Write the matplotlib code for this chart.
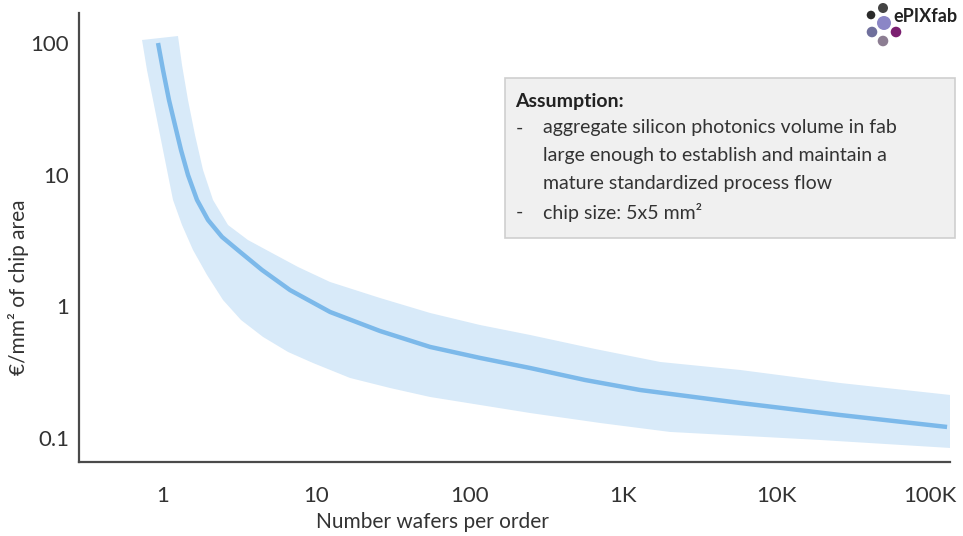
import matplotlib
matplotlib.use("Agg")
import matplotlib.pyplot as plt
from matplotlib.patches import Rectangle, Ellipse
from matplotlib.ticker import NullLocator, FixedLocator, FixedFormatter

plt.rcParams['font.family'] = ['Lato', 'DejaVu Sans']

# ---- data ----
center_x = [0.928, 1.0, 1.094, 1.197, 1.310, 1.455, 1.666, 1.965, 2.424, 3.18, 4.42, 6.73,
            12.27, 25.98, 55.1, 116.6, 247, 564, 1287, 5773, 25900, 129100]
center_y = [100, 62.4, 36.9, 23.8, 15.4, 9.95, 6.43, 4.53, 3.37, 2.59, 1.89, 1.33,
            0.907, 0.650, 0.492, 0.406, 0.3405, 0.276, 0.2318, 0.1847, 0.1497, 0.1214]

upper_x = [1.252, 1.330, 1.455, 1.617, 1.823, 2.118, 2.653, 3.58, 4.985, 7.59, 12.27,
           25.98, 55.1, 116.6, 247, 655, 1738, 5773, 25900, 135000]
upper_y = [113, 68.1, 36.9, 20.0, 10.86, 6.43, 4.15, 3.19, 2.59, 1.991, 1.532,
           1.158, 0.891, 0.722, 0.6066, 0.4748, 0.3784, 0.329, 0.262, 0.2125]

lower_x = [0.730, 0.786, 0.861, 1.0, 1.162, 1.330, 1.569, 1.936, 2.461, 3.225, 4.487,
           6.53, 9.50, 16.56, 30.2, 55.1, 247, 706, 2018, 19190, 135000]
lower_y = [105.4, 62.4, 36.9, 15.4, 6.43, 4.15, 2.68, 1.731, 1.118, 0.788, 0.586,
           0.4506, 0.3716, 0.286, 0.240, 0.2051, 0.155, 0.1302, 0.1113, 0.0967, 0.0841]

x_ticks = [1, 10, 100, 1000, 10000, 100000]
x_labels = ['1', '10', '100', '1K', '10K', '100K']
y_ticks = [0.1, 1, 10, 100]
y_labels = ['0.1', '1', '10', '100']

x_title = 'Number wafers per order'
y_title = '€/mm² of chip area'
note_title = 'Assumption:'
note_lines = ['aggregate silicon photonics volume in fab',
              'large enough to establish and maintain a',
              'mature standardized process flow',
              'chip size: 5x5 mm²']
note_dash_rows = [0, 3]

# ---- figure ----
W, H = 963, 536
fig = plt.figure(figsize=(W / 100, H / 100), dpi=100)
ax = fig.add_axes([79 / W, (H - 462) / H, (950 - 79) / W, (462 - 13) / H])
ax.set_xscale('log')
ax.set_yscale('log')
ax.set_xlim(0.2834, 134900)
ax.set_ylim(0.0658, 169)

band_x = upper_x + lower_x[::-1]
band_y = upper_y + lower_y[::-1]
ax.fill(band_x, band_y, color='#d8eaf9', lw=0, zorder=1)
ax.plot(center_x, center_y, color='#7cb9ea', lw=3.2, solid_capstyle='butt',
        solid_joinstyle='round', zorder=2)

for s in ['top', 'right']:
    ax.spines[s].set_visible(False)
for s in ['left', 'bottom']:
    ax.spines[s].set_color('#4a4a4a')
    ax.spines[s].set_linewidth(1.6)

ax.xaxis.set_major_locator(FixedLocator(x_ticks))
ax.xaxis.set_major_formatter(FixedFormatter(x_labels))
ax.yaxis.set_major_locator(FixedLocator(y_ticks))
ax.yaxis.set_major_formatter(FixedFormatter(y_labels))
ax.xaxis.set_minor_locator(NullLocator())
ax.yaxis.set_minor_locator(NullLocator())
ax.tick_params(axis='x', length=0, pad=17, labelsize=16, labelcolor='#333333')
ax.tick_params(axis='y', length=0, pad=7, labelsize=16, labelcolor='#333333')

ax.set_xlabel(x_title, fontsize=15, color='#333333')
ax.xaxis.set_label_coords((432 - 79) / 871, (462 - 522) / 449)
ax.set_ylabel(y_title, fontsize=15, color='#333333')
ax.yaxis.set_label_coords((18 - 79) / 871, (462 - 287) / 449)
ax.xaxis.label.set_va('center')
ax.yaxis.label.set_va('center')

# ---- note box ----
def fx(px):
    return px / W

def fy(py):
    return (H - py) / H

fig.patches.append(Rectangle((fx(505), fy(238)), fx(955) - fx(505), fy(78) - fy(238),
                             transform=fig.transFigure, facecolor='#f0f0f0',
                             edgecolor='#cfcfcf', lw=1.2, zorder=5))
fig.text(fx(515), fy(101), note_title, fontsize=14, fontweight='bold', color='#222222',
         va='center', ha='left', zorder=6)
for i, line in enumerate(note_lines):
    yy = fy(128 + i * 28)
    if i in note_dash_rows:
        fig.text(fx(516), yy, '-', fontsize=14, color='#333333', va='center', ha='left', zorder=6)
    fig.text(fx(543), yy, line, fontsize=14, color='#333333', va='center', ha='left', zorder=6)

# ---- logo ----
logo_circles = [((871, 15), 4.3, '#2a2a2a'), ((883, 8), 5.0, '#444444'),
                ((884, 23), 7.0, '#8b86c6'), ((872, 32), 5.3, '#6f6f9c'),
                ((896, 32), 5.3, '#7b1f70'), ((883, 41), 5.3, '#8c7d92')]
for (cx, cy), r, c in logo_circles:
    fig.patches.append(Ellipse((fx(cx), fy(cy)), 2 * r / W, 2 * r / H,
                               transform=fig.transFigure,
                               facecolor=c, edgecolor='none', zorder=6))
fig.text(fx(893), fy(16), 'ePIXfab', fontsize=13, fontweight='bold', color='#222222',
         va='center', ha='left', zorder=7)

fig.savefig('out.png', dpi=100)
